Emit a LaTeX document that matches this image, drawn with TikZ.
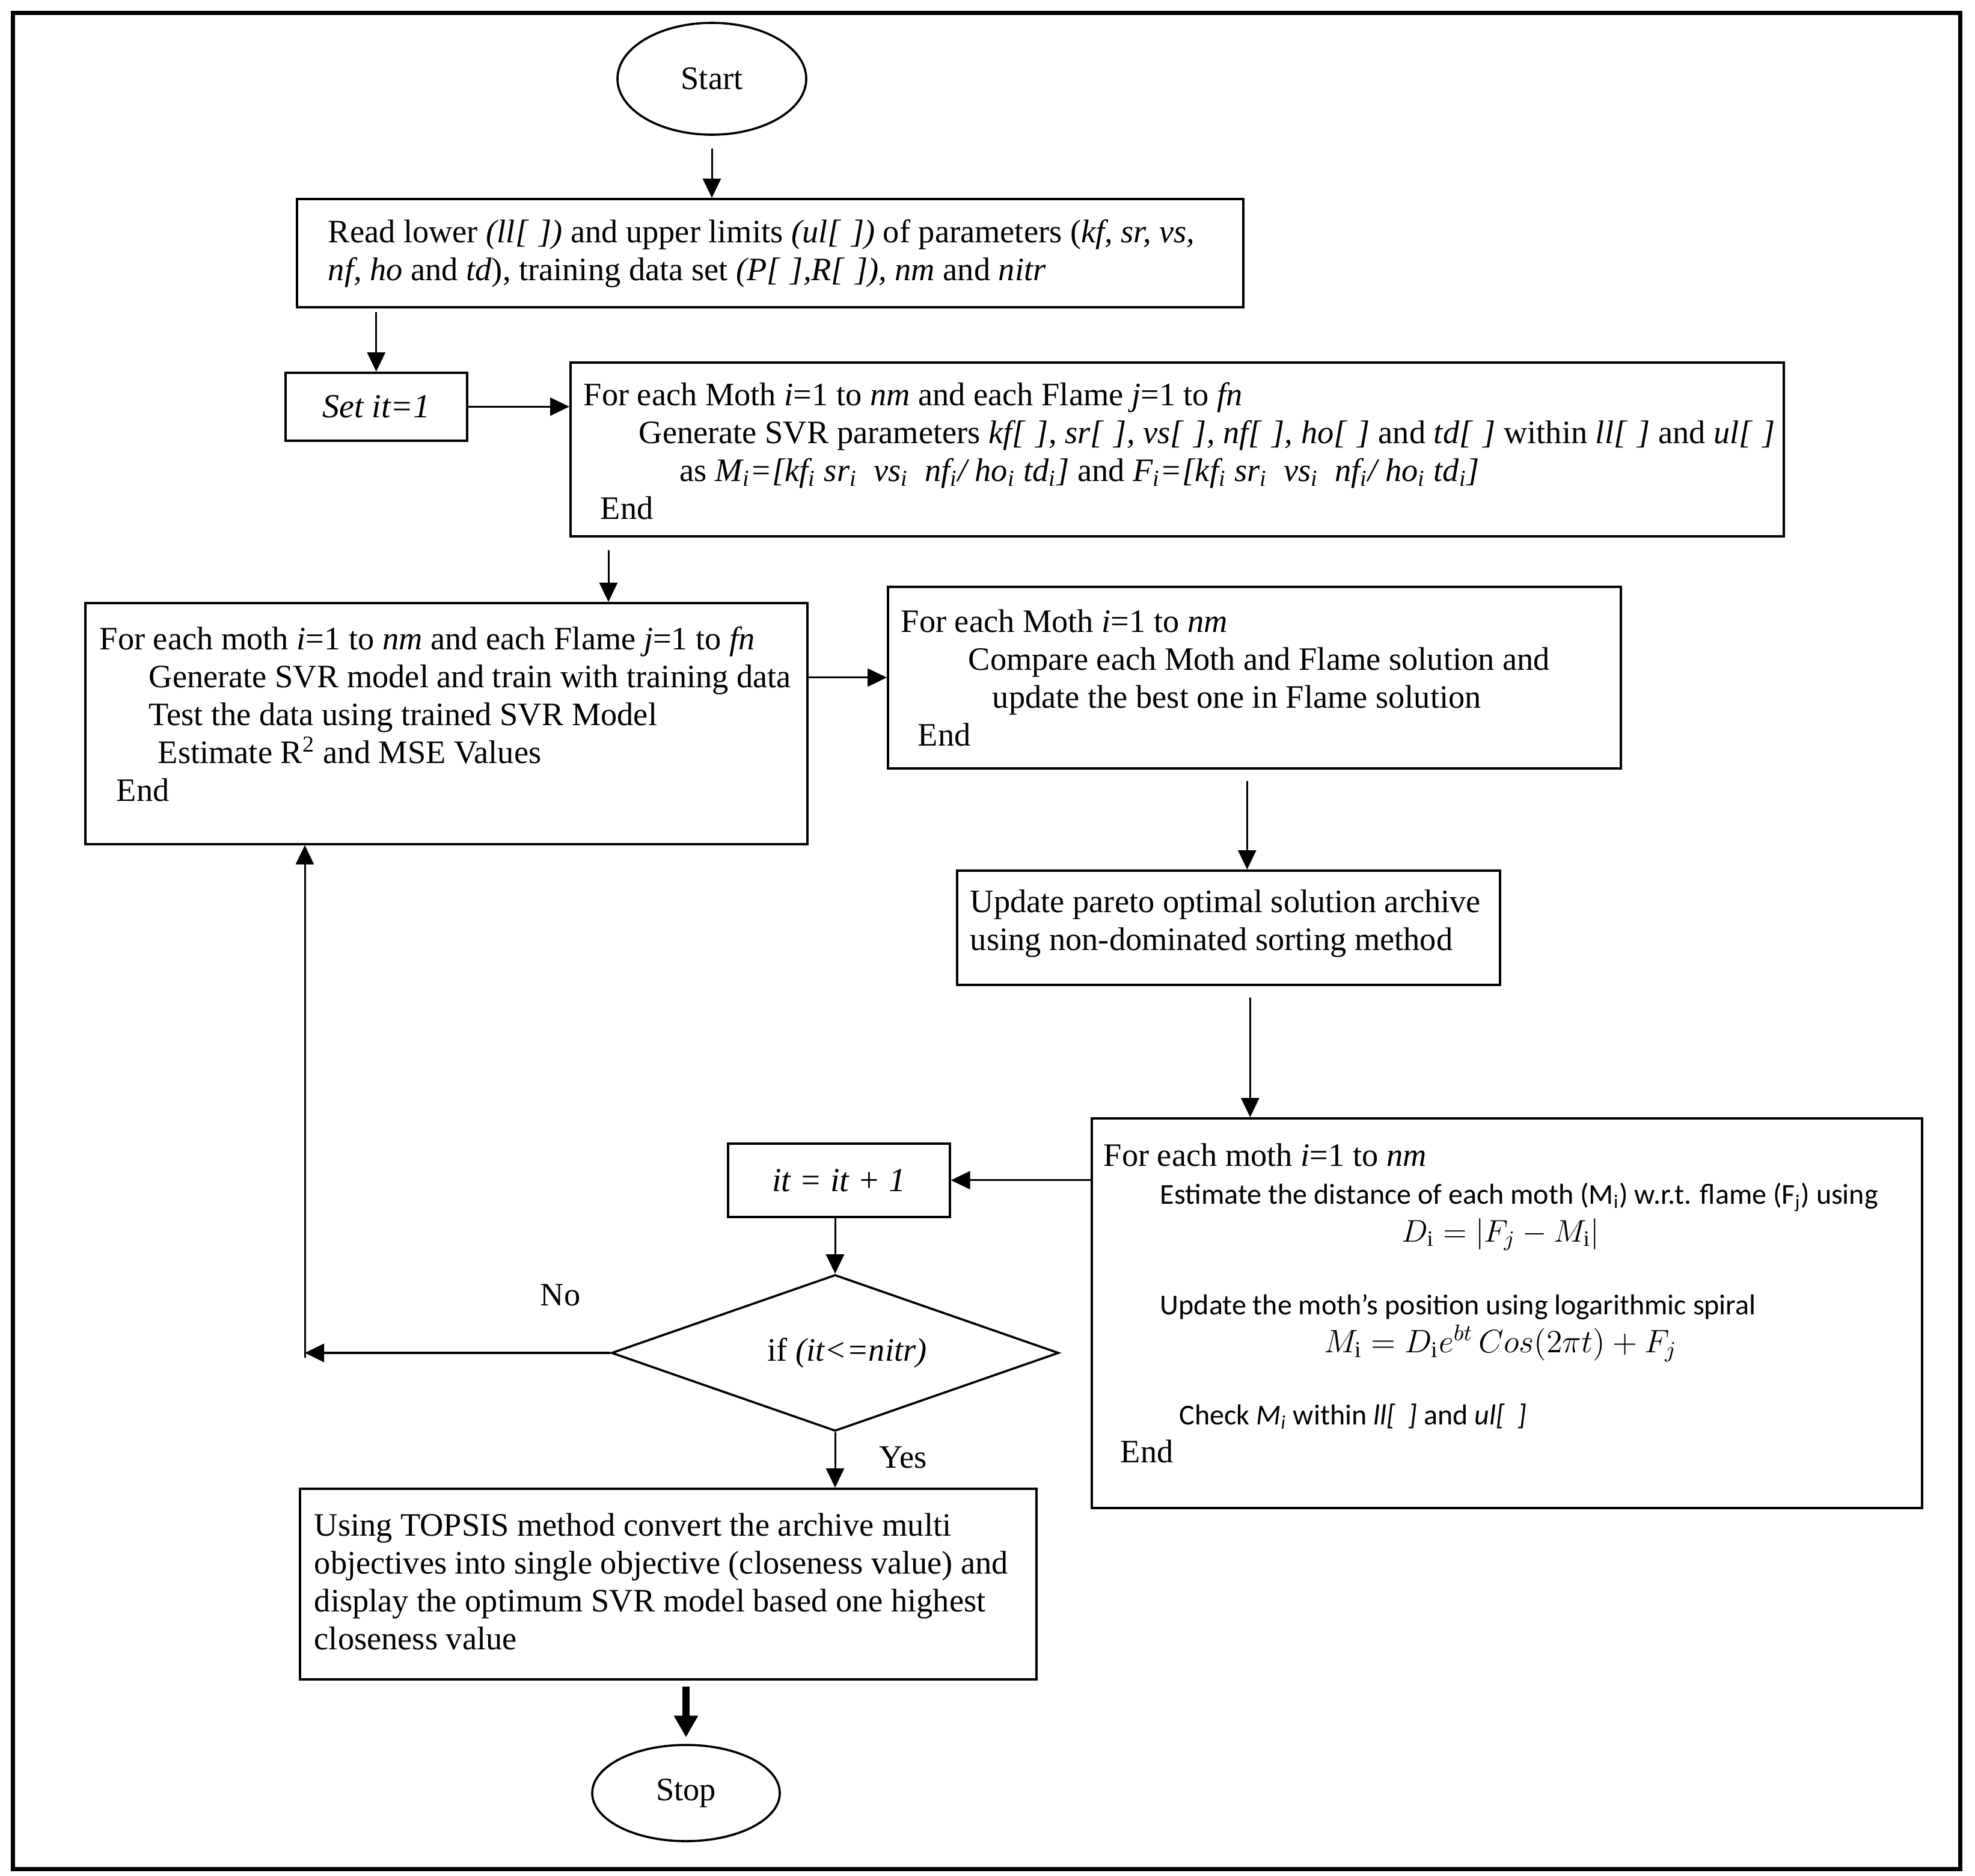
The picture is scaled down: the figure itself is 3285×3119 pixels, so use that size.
\RequirePackage{fix-cm}
\documentclass[tikz,border=0pt]{standalone}
\usepackage{fontspec}
\usepackage{graphicx}
\setmainfont{Liberation Serif}
\newfontfamily\calib{Carlito}
\usetikzlibrary{arrows.meta,shapes.geometric,calc}
\newcommand\cfont{\calib\fontsize{12}{15.75}\selectfont}
\begin{document}
\begin{tikzpicture}[x=0.25pt,y=-0.25pt,
  box/.style={draw, line width=0.9pt, rectangle, inner sep=0pt, anchor=north west},
  txt/.style={inner sep=0pt, align=left, anchor=west, font=\fontsize{13.6}{15.75}\selectfont},
  plain/.style={inner sep=0pt, font=\fontsize{13.6}{15.75}\selectfont},
  arr/.style={line width=0.75pt, -{Triangle[length=8pt,width=7.5pt]}},
  thickarr/.style={line width=3pt, -{Triangle[length=9pt,width=9.5pt]}},
  term/.style={draw, ellipse, line width=0.9pt, inner sep=0pt, font=\fontsize{13.6}{15.75}\selectfont}
  ]
\useasboundingbox (0,0) rectangle (3285,3119);
\draw[line width=1.75pt] (21,21) rectangle (3260,3108);

% terminals
\node[term, minimum width=78.5pt, minimum height=46.5pt] (start) at (1184,131) {Start};
\node[term, minimum width=78pt, minimum height=40pt] (stop) at (1141,2982) {Stop};

% boxes
\node[box, minimum width=393.5pt, minimum height=45pt] (read) at (492,329) {};
\node[box, minimum width=75.5pt, minimum height=28.25pt, font=\itshape\fontsize{14}{16}\selectfont] (set) at (473,618) {Set it=1};
\node[box, minimum width=504.5pt, minimum height=72.25pt] (gen) at (947,601) {};
\node[box, minimum width=300.25pt, minimum height=100.25pt] (moth) at (140,1001) {};
\node[box, minimum width=304.75pt, minimum height=75.5pt] (compare) at (1475,974) {};
\node[box, minimum width=225.75pt, minimum height=47.5pt] (pareto) at (1590,1446) {};
\node[box, minimum width=345.25pt, minimum height=162pt] (est) at (1814,1858) {};
\node[box, minimum width=92.25pt, minimum height=30.5pt, font=\itshape\fontsize{14}{16}\selectfont] (it) at (1209,1900) {it = it + 1};
\node[box, minimum width=306.25pt, minimum height=79.25pt] (topsis) at (497,2474) {};
\node[draw, diamond, aspect=2.86, minimum width=186pt, minimum height=65pt, inner sep=0pt, line width=0.9pt,
      font=\fontsize{13.6}{15.75}\selectfont] (dia) at (1389,2250) {\hspace*{10pt}if \textit{(it<=nitr)}};

% texts
\node[txt] (readtxt) at (545,422) {Read lower \textit{(ll[\,\,])} and upper limits \textit{(ul[\,\,])} of parameters (\textit{kf, sr, vs,}\\
\textit{nf, ho} and \textit{td}), training data set \textit{(P[\,\,],R[\,\,]),} \textit{nm} and \textit{nitr}};

\node[txt] (gentxt) at (970,750) {For each Moth \textit{i}=1 to \textit{nm} and each Flame \textit{j}=1 to \textit{fn}\\
\hspace*{23pt}Generate SVR parameters \textit{kf[\,\,], sr[\,\,], vs[\,\,], nf[\,\,], ho[\,\,]} and \textit{td[\,\,]} within \textit{ll[\,\,]} and \textit{ul[\,\,]}\\
\hspace*{40pt}as \textit{M\textsubscript{i}=[kf\textsubscript{i} sr\textsubscript{i}\ \ vs\textsubscript{i}\ \ nf\textsubscript{i}/ ho\textsubscript{i} td\textsubscript{i}]} and \textit{F\textsubscript{i}=[kf\textsubscript{i} sr\textsubscript{i}\ \ vs\textsubscript{i}\ \ nf\textsubscript{i}/ ho\textsubscript{i} td\textsubscript{i}]}\\
\hspace*{7pt}End};

\node[txt] (mothtxt) at (165,1188) {For each moth \textit{i}=1 to \textit{nm} and each Flame \textit{j}=1 to \textit{fn}\\
\hspace*{20.5pt}Generate SVR model and train with training data\\
\hspace*{20.5pt}Test the data using trained SVR Model\\
\hspace*{24.25pt}Estimate R\textsuperscript{2} and MSE Values\\
\hspace*{7pt}End};

\node[txt] (comparetxt) at (1498,1127) {For each Moth \textit{i}=1 to \textit{nm}\\
\hspace*{28pt}Compare each Moth and Flame solution and\\
\hspace*{38pt}update the best one in Flame solution\\
\hspace*{7pt}End};

\node[txt] (paretotxt) at (1613,1536) {Update pareto optimal solution archive\\
using non-dominated sorting method};

\node[txt] (esttxt) at (1835,2167) {For each moth \textit{i}=1 to \textit{nm}\\
\hspace*{23.5pt}{\cfont Estimate the distance of each moth (M\textsubscript{i}) w.r.t. flame (F\textsubscript{j}) using}\\
\makebox[330pt][c]{\fontsize{13}{15.75}\selectfont $D_{\mathrm{i}} = \bigl|F_j - M_{\mathrm{i}}\bigr|$}\\[14.5pt]
\hspace*{23.5pt}{\cfont Update the moth’s position using logarithmic spiral}\\
\makebox[330pt][c]{\fontsize{13.5}{15.75}\selectfont $M_{\mathrm{i}} = D_{\mathrm{i}}e^{bt}\,Cos(2\pi t) + F_j$}\\[14.25pt]
\hspace*{31.5pt}{\cfont Check \textit{M\textsubscript{i}} within \textit{ll[\ \ ]} and \textit{ul[\ \ ]}}\\
\hspace*{7pt}End};

\node[txt] (topsistxt) at (522,2630) {Using TOPSIS method convert the archive multi\\
objectives into single objective (closeness value) and\\
display the optimum SVR model based one highest\\
closeness value};

\node[plain] (no) at (932,2154) {No};
\node[plain] (yes) at (1502,2424) {Yes};

% connectors
\coordinate (ncorner) at (507,2250);
\draw[arr] ($(start.south)+(0,21)$) -- (start.south |- read.north);
\draw[arr] ($(read.south -| set.north)+(0,6)$) -- (set.north);
\draw[arr] (set.east) -- (set.east -| gen.west);
\draw[arr] ($(gen.south west)+(65,21)$) coordinate (g1) -- (g1 |- moth.north);
\draw[arr] (moth.east |- compare.west) -- (compare.west);
\draw[arr] ($(compare.south)+(-12,19)$) coordinate (c1) -- (c1 |- pareto.north);
\draw[arr] ($(pareto.south)+(36,19)$) coordinate (p1) -- (p1 |- est.north);
\draw[arr] (est.west |- it.east) -- (it.east);
\draw[arr] (dia.north |- it.south) -- (dia.north);
\draw[arr, line width=1.1pt] (dia.west) -- (ncorner);
\draw[arr] ($(ncorner)+(0,8)$) -- (ncorner |- moth.south);
\draw[arr] (dia.south) -- (dia.south |- topsis.north);
\draw[thickarr] ($(topsis.south -| stop.north)+(0,10)$) -- ($(stop.north)+(0,-11)$);
\end{tikzpicture}
\end{document}
